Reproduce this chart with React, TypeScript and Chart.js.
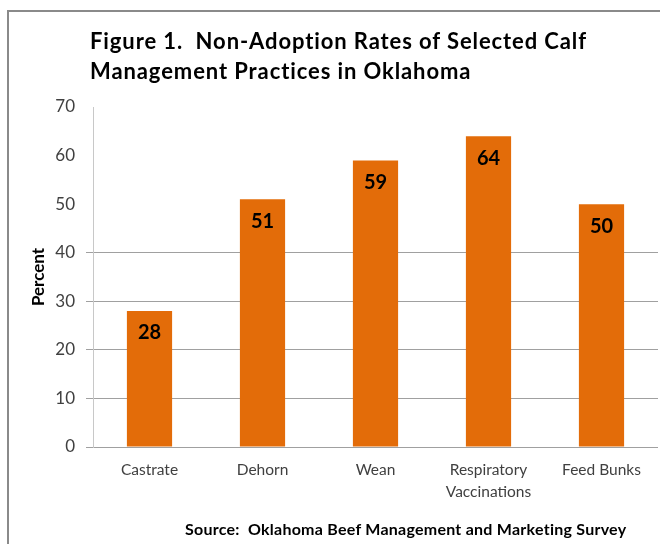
import React, { useEffect, useRef } from "react";
import { Chart, registerables } from "chart.js";

Chart.register(...registerables);

const categories: (string | string[])[] = ["Castrate", "Dehorn", "Wean", ["Respiratory", "Vaccinations"], "Feed Bunks"];
const nonAdoption: number[] = [28, 51, 59, 64, 50];
const titleLines: string[] = ["Figure 1.  Non-Adoption Rates of Selected Calf", "Management Practices in Oklahoma"];
const sourceText = "Source:  Oklahoma Beef Management and Marketing Survey";
const yAxisTitle = "Percent";
const yMin = 0;
const yMax = 70;
const yStep = 10;

const BAR_COLOR = "#E36C09";
const FONT = "Lato, 'Open Sans', sans-serif";

const valueLabels = {
  id: "valueLabels",
  afterDatasetsDraw(chart: any) {
    const ctx = chart.ctx;
    const meta = chart.getDatasetMeta(0);
    ctx.save();
    ctx.font = `bold 20px ${FONT}`;
    ctx.fillStyle = "#000000";
    ctx.textAlign = "center";
    ctx.textBaseline = "middle";
    meta.data.forEach((bar: any, i: number) => {
      const v = chart.data.datasets[0].data[i];
      ctx.fillText(String(v), bar.x, bar.y + 22);
    });
    ctx.restore();
  },
};

export default function App() {
  const ref = useRef<HTMLCanvasElement | null>(null);

  useEffect(() => {
    if (!ref.current) return;
    const chart = new Chart(ref.current, {
      type: "bar",
      data: {
        labels: categories,
        datasets: [
          {
            data: nonAdoption,
            backgroundColor: BAR_COLOR,
            borderWidth: 0,
            barPercentage: 0.4,
            categoryPercentage: 1,
          },
        ],
      },
      options: {
        responsive: false,
        animation: false,
        devicePixelRatio: 1,
        layout: { padding: { left: 0, right: 2, top: 107, bottom: 0 } },
        plugins: {
          legend: { display: false },
          tooltip: { enabled: false },
          title: { display: false },
        },
        scales: {
          x: {
            grid: { display: false, drawTicks: false },
            border: { display: false },
            ticks: {
              padding: 12,
              color: "#404040",
              font: { family: FONT, size: 15.5, lineHeight: 1.42 },
              maxRotation: 0,
              autoSkip: false,
            },
            afterFit(scale: any) {
              scale.height = 97;
            },
          },
          y: {
            min: yMin,
            max: yMax,
            ticks: {
              stepSize: yStep,
              padding: 11,
              color: "#404040",
              font: { family: FONT, size: 17 },
            },
            grid: {
              color: (ctx: any) => (ctx.tick && ctx.tick.value <= 40 ? "#a0a0a0" : "rgba(0,0,0,0)"),
              lineWidth: 1,
              tickLength: 7,
              drawTicks: true,
            },
            border: { display: true, color: "#c8c8c8", width: 1 },
            title: {
              display: true,
              text: yAxisTitle,
              color: "#000000",
              font: { family: FONT, size: 17, weight: "bold" },
              padding: { top: 28, bottom: 0 },
            },
            afterFit(scale: any) {
              scale.width = 93;
            },
          },
        },
      },
      plugins: [valueLabels],
    });
    return () => chart.destroy();
  }, []);

  return (
    <div style={{ position: "fixed", left: 0, top: 0, width: 660, height: 544, background: "#ffffff", overflow: "hidden" }}>
      <div
        style={{
          position: "absolute",
          left: 7,
          top: 10,
          width: 700,
          height: 600,
          borderLeft: "2px solid #8a8a8a",
          borderTop: "2px solid #8a8a8a",
        }}
      />
      <canvas ref={ref} width={660} height={544} style={{ position: "absolute", left: 0, top: 0, width: 660, height: 544 }} />
      <div
        style={{
          position: "absolute",
          left: 90,
          top: 26,
          fontFamily: FONT,
          fontWeight: "bold",
          fontSize: 22,
          letterSpacing: "0.9px",
          lineHeight: "30px",
          color: "#000",
          whiteSpace: "pre",
        }}
      >
        {titleLines.map((t, i) => (
          <div key={i}>{t}</div>
        ))}
      </div>
      <div
        style={{
          position: "absolute",
          left: 185,
          top: 519,
          fontFamily: FONT,
          fontWeight: "bold",
          fontSize: 16,
          letterSpacing: "0.25px",
          lineHeight: "20px",
          color: "#000",
          whiteSpace: "pre",
        }}
      >
        {sourceText}
      </div>
    </div>
  );
}
